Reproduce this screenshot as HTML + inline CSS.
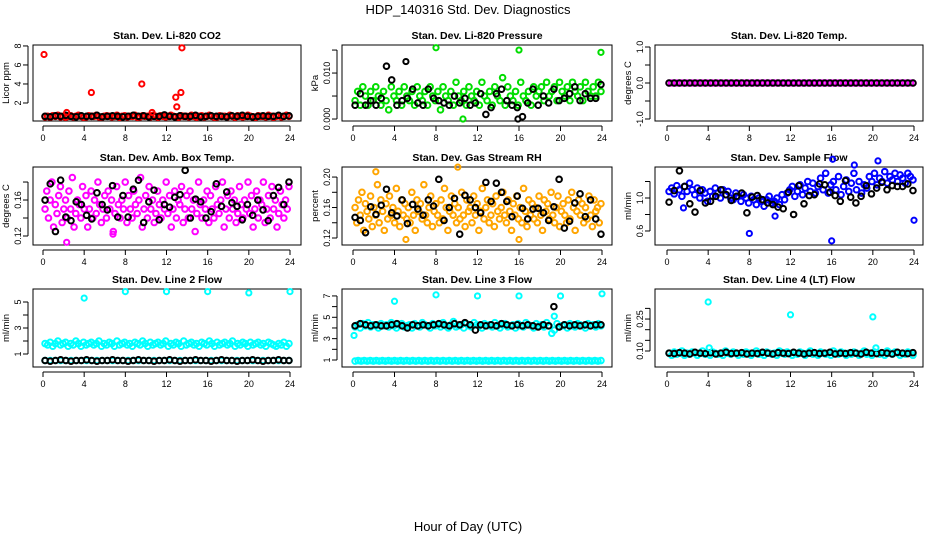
<!DOCTYPE html>
<html><head><meta charset="utf-8"><style>
html,body{margin:0;padding:0;background:#fff;}
svg{display:block;font-family:"Liberation Sans",sans-serif;}
</style></head><body>
<svg id="chart" width="936" height="540" viewBox="0 0 936 540" xmlns="http://www.w3.org/2000/svg">
<text x="468" y="14" text-anchor="middle" font-size="13">HDP_140316  Std. Dev. Diagnostics</text>
<text x="468" y="531" text-anchor="middle" font-size="13">Hour of Day (UTC)</text>
</svg>
<script>
const hourTicks=[0,4,8,12,16,20,24];
// CO2
const co2Red=[.55,.6,.5,.65,.6,.7,.55,.6,.5,.6,.65,.55,.6,.7,.6,.5,.55,.65,.6,.6,.7,.55,.5,.6,.65,.6,.55,.6,.7,.5,.6,.65,.55,.6,.6,.7,.5,.55,.65,.6,.6,.55,.7,.6,.5,.65,.6,.55,.6,.7,.6,.55,.5,.65,.6,.6,.55,.7,.6,.5,.6,.65,.55,.6,.7,.6,.5,.55,.65,.6,.6,.55,.7,.6,.5,.65,.6,.55,.6,.7,.6,.55,.5,.65,.6,.6,.55,.7,.6,.5,.6,.65,.55,.6,.7,.6];
const co2Black=[.6,.55,.65,.6,.7,.6,.55,.65,.6,.6,.7,.55,.6,.65,.6,.55,.6,.7,.6,.65,.55,.6,.6,.75,.6,.55,.65,.6,.6,.7,.55,.6,.65,.6,.6,.55,.65,.6,.7,.6,.55,.6,.65,.6,.6,.7,.6,.65];
const co2OutHours=[0.1,2.3,4.7,9.6,10.6,12.9,13.0,13.4,13.5];
const co2OutVals=[7.1,1.0,3.1,4.0,1.0,2.6,1.6,3.1,7.8];
// Pressure
const presGreen=[.004,.006,.003,.007,.005,.003,.006,.004,.007,.005,.003,.006,.004,.002,.007,.005,.004,.006,.003,.007,.005,.004,.006,.003,.007,.005,.004,.006,.003,.007,.005,.004,.006,.002,.007,.005,.004,.006,.003,.008,.005,.004,.006,.003,.007,.005,.004,.006,.003,.008,.005,.004,.006,.003,.007,.005,.004,.009,.003,.007,.005,.004,.006,.003,.008,.005,.004,.006,.003,.007,.005,.006,.007,.004,.008,.005,.006,.007,.004,.008,.006,.005,.007,.004,.008,.006,.005,.007,.004,.008,.006,.005,.007,.005,.008,.006];
const presBlack=[.003,.0055,.003,.004,.003,.0045,.0115,.0085,.003,.004,.0045,.0065,.0035,.003,.0065,.0045,.004,.0035,.003,.005,.0035,.0045,.003,.0035,.0055,.001,.0025,.0055,.0065,.004,.003,.0025,.0005,.0035,.0065,.003,.005,.0035,.0065,.004,.0045,.0055,.007,.004,.0055,.0045,.0045,.0075];
const presOutHours=[8.0,10.6,16.0,23.9,5.1,15.9];
const presOutVals=[.0155,.0,.015,.0145,.0125,.0];
// Li-820 temp
const ltMag=[0,0,0,0,0,0,0,0,0,0,0,0,0,0,0,0,0,0,0,0,0,0,0,0,0,0,0,0,0,0,0,0,0,0,0,0,0,0,0,0,0,0,0,0,0,0,0,0,0,0,0,0,0,0,0,0,0,0,0,0,0,0,0,0,0,0,0,0,0,0,0,0,0,0,0,0,0,0,0,0,0,0,0,0,0,0,0,0,0,0,0,0,0,0,0,0];
const ltBlack=[0,0,0,0,0,0,0,0,0,0,0,0,0,0,0,0,0,0,0,0,0,0,0,0,0,0,0,0,0,0,0,0,0,0,0,0,0,0,0,0,0,0,0,0,0,0,0,0];
// Amb box temp
const ambMag=[.15,.17,.14,.16,.18,.13,.155,.145,.165,.175,.135,.15,.16,.14,.17,.15,.185,.13,.145,.16,.155,.14,.175,.15,.165,.13,.15,.17,.14,.16,.145,.18,.155,.135,.15,.165,.14,.17,.15,.16,.125,.145,.175,.155,.14,.16,.15,.18,.135,.165,.15,.14,.17,.155,.145,.16,.185,.13,.15,.165,.14,.175,.15,.16,.135,.145,.17,.155,.14,.16,.15,.18,.145,.165,.13,.15,.17,.14,.16,.155,.175,.135,.15,.165,.14,.17,.15,.16,.125,.145,.18,.155,.14,.16,.15,.17,.135,.165,.15,.14,.175,.155,.145,.16,.18,.13,.15,.165,.14,.17,.15,.16,.135,.145,.175,.155,.14,.16,.15,.18,.145,.165,.13,.15,.17,.14,.16,.155,.18,.135,.15,.165,.14,.175,.15,.16,.13,.145,.17,.155,.14,.16,.15,.175];
const ambBlack=[.16,.178,.125,.182,.141,.137,.158,.155,.143,.139,.168,.155,.149,.176,.141,.165,.141,.172,.182,.135,.158,.171,.138,.155,.152,.163,.166,.193,.14,.161,.158,.14,.147,.178,.153,.169,.157,.153,.138,.155,.143,.16,.149,.137,.165,.174,.155,.18];
const ambOutHours=[2.3,6.8];
const ambOutVals=[.113,.122];
// Gas stream RH
const rhOrange=[.16,.14,.17,.15,.18,.13,.165,.155,.145,.175,.135,.16,.15,.19,.14,.17,.155,.13,.165,.145,.175,.15,.16,.14,.185,.155,.135,.17,.15,.165,.145,.16,.14,.18,.15,.13,.17,.155,.165,.145,.19,.15,.14,.16,.175,.135,.155,.165,.15,.14,.17,.145,.185,.16,.13,.155,.175,.15,.165,.14,.16,.145,.18,.15,.135,.17,.155,.16,.14,.175,.15,.165,.13,.155,.185,.145,.16,.17,.14,.15,.165,.135,.175,.155,.145,.16,.18,.15,.14,.17,.155,.13,.165,.15,.175,.145,.16,.14,.185,.155,.135,.17,.15,.165,.145,.16,.14,.175,.15,.13,.17,.155,.165,.145,.18,.15,.14,.16,.175,.135,.155,.165,.15,.14,.17,.145,.18,.16,.13,.155,.17,.15,.165,.14,.16,.145,.175,.15,.135,.17,.155,.16,.14,.165];
const rhBlack=[.147,.143,.127,.161,.151,.163,.184,.153,.149,.17,.139,.164,.158,.15,.17,.162,.197,.143,.16,.172,.125,.176,.17,.16,.153,.193,.168,.192,.18,.168,.148,.175,.159,.145,.158,.159,.153,.143,.161,.197,.133,.142,.166,.178,.148,.17,.145,.125];
const rhOutHours=[5.1,10.1,16.0,2.2];
const rhOutVals=[.118,.213,.118,.207];
// Sample flow
const sfBlue=[1.08,1.12,1.05,1.15,1.1,1.02,1.14,1.08,1.18,1.1,1.04,1.12,1.0,1.1,1.06,0.96,1.08,1.02,1.12,1.06,1.0,1.1,1.04,1.08,1.0,0.98,1.06,1.02,0.96,1.04,1.0,0.94,1.02,0.98,0.92,1.0,0.96,0.9,0.98,1.02,0.94,0.96,1.0,0.92,1.04,0.98,1.06,1.1,1.14,1.02,1.08,1.16,1.04,1.12,1.2,1.08,1.18,1.06,1.14,1.24,1.1,1.3,1.06,1.16,1.2,1.1,1.26,1.04,1.14,1.22,1.08,1.18,1.3,1.1,1.2,1.06,1.16,1.12,1.26,1.2,1.3,1.16,1.24,1.2,1.32,1.18,1.26,1.22,1.3,1.2,1.28,1.24,1.18,1.3,1.26,1.22];
const sfBlack=[0.95,1.09,1.33,1.14,0.93,0.83,1.09,0.94,0.96,1.02,1.1,1.04,0.97,1.02,1.06,0.82,1.01,1.03,0.98,0.94,0.92,0.89,0.87,1.07,0.8,1.15,0.93,1.03,1.04,1.17,1.16,1.07,1.03,0.96,1.21,1.01,0.94,1.02,1.15,1.05,1.12,1.19,1.1,1.15,1.14,1.14,1.17,1.09];
const sfOutHours=[8.0,16.0,24.0,10.5,1.6,16.1,18.2,20.5];
const sfOutVals=[0.57,0.48,0.73,0.78,0.88,1.47,1.4,1.45];
// Line 2 flow
const l2Upper=[1.8,1.7,1.9,1.6,1.8,2.0,1.7,1.8,1.9,1.6,1.8,1.7,2.0,1.8,1.6,1.9,1.7,1.8,1.9,1.7,1.8,2.0,1.6,1.8,1.7,1.9,1.8,1.6,2.0,1.7,1.8,1.9,1.7,1.8,1.6,1.9,1.8,1.7,2.0,1.8,1.6,1.9,1.7,1.8,1.9,1.7,1.8,2.0,1.6,1.8,1.7,1.9,1.8,1.6,2.0,1.7,1.8,1.9,1.7,1.8,1.6,1.9,1.8,1.7,2.0,1.8,1.6,1.9,1.7,1.8,1.9,1.7,1.8,2.0,1.6,1.8,1.7,1.9,1.8,1.6,1.9,1.7,1.8,1.9,1.7,1.8,1.6,1.9,1.8,1.7,1.6,1.8,1.7,1.9,1.6,1.8];
const l2Lower=[0.5,0.5,0.5,0.5,0.5,0.5,0.5,0.5,0.5,0.5,0.5,0.5,0.5,0.5,0.5,0.5,0.5,0.5,0.5,0.5,0.5,0.5,0.5,0.5,0.5,0.5,0.5,0.5,0.5,0.5,0.5,0.5,0.5,0.5,0.5,0.5,0.5,0.5,0.5,0.5,0.5,0.5,0.5,0.5,0.5,0.5,0.5,0.5];
const l2Black=[0.5,0.45,0.5,0.55,0.5,0.45,0.5,0.5,0.55,0.5,0.45,0.5,0.5,0.55,0.5,0.5,0.45,0.5,0.55,0.5,0.5,0.45,0.5,0.5,0.55,0.5,0.45,0.5,0.5,0.55,0.5,0.5,0.45,0.5,0.55,0.5,0.5,0.45,0.5,0.5,0.55,0.5,0.45,0.5,0.5,0.55,0.5,0.5];
const l2OutHours=[4.0,8.0,12.0,16.0,20.0,24.0];
const l2OutVals=[5.3,5.8,5.8,5.8,5.7,5.8];
// Line 3 flow
const l3Upper=[4.1,4.3,4.0,4.4,4.2,4.5,4.1,4.3,4.2,4.0,4.4,4.2,4.3,4.1,4.5,4.2,4.0,4.3,4.4,4.1,4.2,4.3,4.0,4.4,4.2,4.1,4.5,4.3,4.2,4.0,4.4,4.2,4.3,4.1,4.5,4.2,4.0,4.3,4.6,4.1,4.2,4.3,4.0,4.4,4.2,4.1,4.5,4.3,4.2,4.0,4.4,4.2,4.3,4.1,4.5,4.2,4.0,4.3,4.4,4.1,4.2,4.3,4.0,4.4,4.2,4.1,4.5,4.3,4.2,4.0,4.4,4.2,4.3,4.1,4.5,4.2,3.5,3.8,4.4,4.1,4.2,4.3,4.0,4.4,4.2,4.1,4.4,4.3,4.2,4.0,4.4,4.2,4.3,4.1,4.4,4.2];
const l3Lower=[0.9,0.95,0.9,0.95,0.9,0.95,0.9,0.95,0.9,0.95,0.9,0.95,0.9,0.95,0.9,0.95,0.9,0.95,0.9,0.95,0.9,0.95,0.9,0.95,0.9,0.95,0.9,0.95,0.9,0.95,0.9,0.95,0.9,0.95,0.9,0.95,0.9,0.95,0.9,0.95,0.9,0.95,0.9,0.95,0.9,0.95,0.9,0.95,0.9,0.95,0.9,0.95,0.9,0.95,0.9,0.95,0.9,0.95,0.9,0.95,0.9,0.95,0.9,0.95,0.9,0.95,0.9,0.95,0.9,0.95,0.9,0.95,0.9,0.95,0.9,0.95,0.9,0.95,0.9,0.95,0.9,0.95];
const l3Black=[4.2,4.4,4.3,4.2,4.3,4.2,4.2,4.3,4.4,4.2,4.0,4.3,4.2,4.3,4.2,4.3,4.4,4.3,4.2,4.4,4.3,4.5,4.3,3.8,4.3,4.2,4.3,4.2,4.4,4.3,4.2,4.3,4.2,4.3,4.2,4.1,4.3,4.2,6.0,4.1,4.3,4.2,4.3,4.2,4.3,4.2,4.3,4.3];
const l3OutHours=[0.1,4.0,8.0,12.0,16.0,20.0,24.0,19.4];
const l3OutVals=[3.3,6.5,7.1,7.0,7.0,7.0,7.2,5.1];
// Line 4 flow
const l4Cyan=[.09,.08,.095,.085,.09,.1,.08,.09,.085,.095,.09,.08,.09,.1,.085,.09,.08,.095,.09,.085,.09,.08,.1,.09,.085,.095,.09,.08,.09,.085,.095,.09,.08,.09,.1,.085,.09,.08,.095,.09,.085,.09,.08,.1,.09,.085,.095,.09,.08,.09,.085,.095,.09,.08,.09,.1,.085,.09,.08,.095,.09,.085,.09,.08,.1,.09,.085,.095,.09,.08,.09,.085,.095,.09,.08,.09,.1,.085,.09,.08,.095,.09,.085,.09,.08,.1,.09,.085,.095,.09,.08,.09,.085,.095,.09,.08];
const l4Black=[.09,.088,.092,.09,.086,.094,.09,.088,.092,.086,.09,.094,.088,.09,.092,.086,.09,.088,.094,.09,.086,.092,.09,.088,.094,.09,.086,.09,.092,.088,.09,.094,.086,.09,.088,.092,.09,.086,.094,.09,.088,.092,.09,.086,.094,.09,.088,.092];
const l4OutHours=[4.0,12.0,20.0,4.1,20.3];
const l4OutVals=[.33,.27,.26,.115,.115];

const svg=document.getElementById('chart');
const NS='http://www.w3.org/2000/svg';
function mk(tag,attrs,parent){const e=document.createElementNS(NS,tag);for(const k in attrs)e.setAttribute(k,attrs[k]);(parent||svg).appendChild(e);return e;}

const cols=[{bx:33,bw:268,x0:43,x24:290},{bx:342,bw:270,x0:353,x24:602},{bx:655,bw:268,x0:667,x24:914}];
const rows=[{by:45,bh:76},{by:167,bh:78},{by:289,bh:78}];

function makePanel(name,title,ylab,col,row,yLo,yHi,ticks,labels){
  const c=cols[col],r=rows[row];
  const g=mk('g',{});
  
  
  const p={g,x:h=>c.x0+(h/24)*(c.x24-c.x0),y:v=>r.by+r.bh-(v-yLo)/(yHi-yLo)*r.bh,c,r};
  const t=mk('text',{x:c.bx+c.bw/2,y:r.by-6,'text-anchor':'middle','font-size':'10.5','font-weight':'bold'},g);
  
  
  t.textContent=title;
  const box=mk('rect',{x:c.bx,y:r.by,width:c.bw,height:r.bh,fill:'none',stroke:'#000','stroke-width':1},g);
  
  
  const xa=mk('g',{},g);
  
  
  const yb=r.by+r.bh;
  mk('line',{x1:p.x(0),x2:p.x(24),y1:yb+5,y2:yb+5,stroke:'#000'},xa);
  hourTicks.forEach(h=>{
    mk('line',{x1:p.x(h),x2:p.x(h),y1:yb+5,y2:yb+10,stroke:'#000'},xa);
    const tl=mk('text',{x:p.x(h),y:yb+20,'text-anchor':'middle','font-size':'9'},xa);
    
    
    tl.textContent=h;
  });
  const ya=mk('g',{},g);
  
  
  const ax=c.bx;
  mk('line',{x1:ax-5,x2:ax-5,y1:p.y(ticks[0]),y2:p.y(ticks[ticks.length-1]),stroke:'#000'},ya);
  ticks.forEach((v,i)=>{
    const yy=p.y(v);
    mk('line',{x1:ax-5,x2:ax-10,y1:yy,y2:yy,stroke:'#000'},ya);
    if(labels[i]!==''){
      const tl=mk('text',{x:ax-12,y:yy,'text-anchor':'middle','font-size':'9',transform:`rotate(-90 ${ax-12} ${yy})`},ya);
      
      
      tl.textContent=labels[i];
    }
  });
  const yl=mk('text',{x:ax-24,y:r.by+r.bh/2,'text-anchor':'middle','font-size':'9.5',transform:`rotate(-90 ${ax-24} ${r.by+r.bh/2})`},ya);
  
  
  yl.textContent=ylab;
  return p;
}
function series(p,vals,color,name){
  const g=mk('g',{fill:'none',stroke:color,'stroke-width':2},p.g);
  
  
  const n=vals.length;
  vals.forEach((v,i)=>{const h=0.2+i*(23.7/(n-1));
    const c=mk('circle',{cx:p.x(h),cy:p.y(v),r:2.8},g);
    
    
  });
}
function points(p,hours,vals,color,name){
  const g=mk('g',{fill:'none',stroke:color,'stroke-width':2},p.g);
  
  
  hours.forEach((h,i)=>{
    const c=mk('circle',{cx:p.x(h),cy:p.y(vals[i]),r:2.6},g);
    
    
  });
}
const RED='#ff0000',GRN='#00dd00',MAG='#ff00ff',ORG='#ffa500',BLU='#0000ff',CYN='#00ffff',BLK='#000';

let p=makePanel('panel-co2','Stan. Dev. Li-820 CO2','Licor ppm',0,0,0.105,8.1,[2,4,6,8],['2','4','6','8']);
series(p,co2Red,RED,'co2-red');series(p,co2Black,BLK,'co2-black');points(p,co2OutHours,co2OutVals,RED,'co2-outliers');

p=makePanel('panel-pressure','Stan. Dev. Li-820 Pressure','kPa',1,0,-0.00043,0.0161,[0,.005,.01,.015],['0.000','','0.010','']);
series(p,presGreen,GRN,'pressure-green');series(p,presBlack,BLK,'pressure-black');points(p,presOutHours.slice(0,4),presOutVals.slice(0,4),GRN,'pressure-green-outliers');points(p,presOutHours.slice(4),presOutVals.slice(4),BLK,'pressure-black-outliers');

p=makePanel('panel-li-temp','Stan. Dev. Li-820 Temp.','degrees C',2,0,-1.056,1.056,[-1,-.5,0,.5,1],['-1.0','','0.0','','1.0']);
series(p,ltMag,MAG,'li-temp-magenta');series(p,ltBlack,BLK,'li-temp-black');

p=makePanel('panel-amb-temp','Stan. Dev. Amb. Box Temp.','degrees C',0,1,0.110,0.1967,[.12,.14,.16,.18],['0.12','','0.16','']);
series(p,ambMag,MAG,'amb-magenta');points(p,ambOutHours,ambOutVals,MAG,'amb-outliers');series(p,ambBlack,BLK,'amb-black');

p=makePanel('panel-rh','Stan. Dev. Gas Stream RH','percent',1,1,0.1108,0.2132,[.12,.14,.16,.18,.2],['0.12','','0.16','','0.20']);
series(p,rhOrange,ORG,'rh-orange');points(p,rhOutHours,rhOutVals,ORG,'rh-outliers');series(p,rhBlack,BLK,'rh-black');

p=makePanel('panel-sample-flow','Stan. Dev. Sample Flow','ml/min',2,1,0.43,1.376,[.6,.8,1.0,1.2],['0.6','','1.0','']);
series(p,sfBlue,BLU,'sample-blue');points(p,sfOutHours,sfOutVals,BLU,'sample-outliers');series(p,sfBlack,BLK,'sample-black');

p=makePanel('panel-line2','Stan. Dev. Line 2 Flow','ml/min',0,2,0,6.0,[1,2,3,4,5],['1','','3','','5']);
series(p,l2Upper,CYN,'line2-cyan-upper');series(p,l2Lower,CYN,'line2-cyan-lower');series(p,l2Black,BLK,'line2-black');points(p,l2OutHours,l2OutVals,CYN,'line2-outliers');

p=makePanel('panel-line3','Stan. Dev. Line 3 Flow','ml/min',1,2,0.344,7.65,[1,2,3,4,5,6,7],['1','','3','','5','','7']);
series(p,l3Upper,CYN,'line3-cyan-upper');series(p,l3Lower,CYN,'line3-cyan-lower');series(p,l3Black,BLK,'line3-black');points(p,l3OutHours,l3OutVals,CYN,'line3-outliers');

p=makePanel('panel-line4','Stan. Dev. Line 4 (LT) Flow','ml/min',2,2,0.0249,0.391,[.1,.15,.2,.25,.3],['0.10','','','0.25','']);
series(p,l4Cyan,CYN,'line4-cyan');series(p,l4Black,BLK,'line4-black');points(p,l4OutHours,l4OutVals,CYN,'line4-outliers');
</script>
</body></html>
